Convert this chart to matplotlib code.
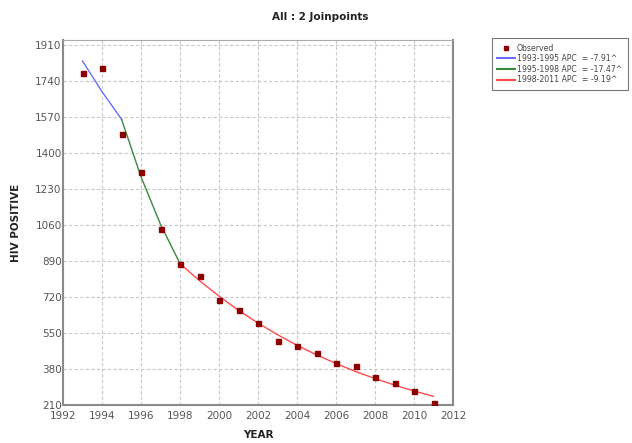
import matplotlib
matplotlib.use("Agg")
from matplotlib import pyplot as plt

# observed counts by year
years = [1993, 1994, 1995, 1996, 1997, 1998, 1999, 2000, 2001, 2002,
         2003, 2004, 2005, 2006, 2007, 2008, 2009, 2010, 2011]
observed = [1778, 1802, 1491, 1312, 1039, 874, 818, 705, 657, 596,
            511, 488, 455, 408, 394, 342, 314, 276, 220]

# fitted joinpoint segments
seg1_years = [1993, 1994, 1995]
seg1_fit = [1835, 1690, 1560]
seg2_years = [1995, 1996, 1997, 1998]
seg2_fit = [1560, 1288, 1063, 878]
seg3_years = [1998, 1999, 2000, 2001, 2002, 2003, 2004, 2005,
              2006, 2007, 2008, 2009, 2010, 2011]
seg3_fit = [878, 797, 724, 657, 597, 542, 492, 447, 406, 368, 335, 304, 276, 251]

seg_labels = ['1993-1995 APC  = -7.91^', '1995-1998 APC  = -17.47^',
              '1998-2011 APC  = -9.19^']

yticks = [210, 380, 550, 720, 890, 1060, 1230, 1400, 1570, 1740, 1910]
xticks = list(range(1992, 2013, 2))

fig = plt.figure(figsize=(6.32, 4.43), dpi=100)
ax = fig.add_axes([0.0997, 0.0858, 0.6171, 0.8239])

ax.plot(years, observed, 's', color='#8b0000', markersize=3.6, label='Observed', zorder=3)
ax.plot(seg1_years, seg1_fit, color='#6b6bff', lw=1.0, label=seg_labels[0])
ax.plot(seg2_years, seg2_fit, color='#3a8a3a', lw=1.0, label=seg_labels[1])
ax.plot(seg3_years, seg3_fit, color='#ff4a4a', lw=1.0, label=seg_labels[2])

ax.set_xlim(1992, 2012)
ax.set_ylim(210, 1934)
ax.set_xticks(xticks)
ax.set_yticks(yticks)
ax.tick_params(length=0, labelsize=7.5, labelcolor='#555555', pad=1)
ax.tick_params(axis='x', pad=4)
ax.grid(True, ls=(0, (3, 2)), color='#c8c8c8', lw=0.8)

for side in ['left', 'bottom', 'right', 'top']:
    ax.spines[side].set_color('#8a8a8a')
    ax.spines[side].set_linewidth(1.5)
ax.spines['top'].set_linewidth(0.8)
ax.spines['top'].set_color('#aaaaaa')

ax.set_xlabel('YEAR', fontsize=7.5, fontweight='bold', color='#222222', labelpad=7)
ax.set_ylabel('HIV POSITIVE', fontsize=7.5, fontweight='bold', color='#222222', labelpad=10)

fig.text(0.506, 0.962, 'All : 2 Joinpoints', ha='center', va='center',
         fontsize=7.5, fontweight='bold', color='#222222')

leg = ax.legend(loc='upper left', bbox_to_anchor=(1.1, 1.005), fontsize=5.6,
                frameon=True, fancybox=False, borderpad=0.7, handlelength=2.2,
                handletextpad=0.3, labelspacing=0.2, markerscale=0.8,
                borderaxespad=0)
leg.get_frame().set_edgecolor('#555555')
leg.get_frame().set_linewidth(0.8)
for t in leg.get_texts():
    t.set_color('#444444')
for h in leg.get_lines()[1:]:
    h.set_linewidth(1.5)

fig.savefig('out.png', dpi=100)
